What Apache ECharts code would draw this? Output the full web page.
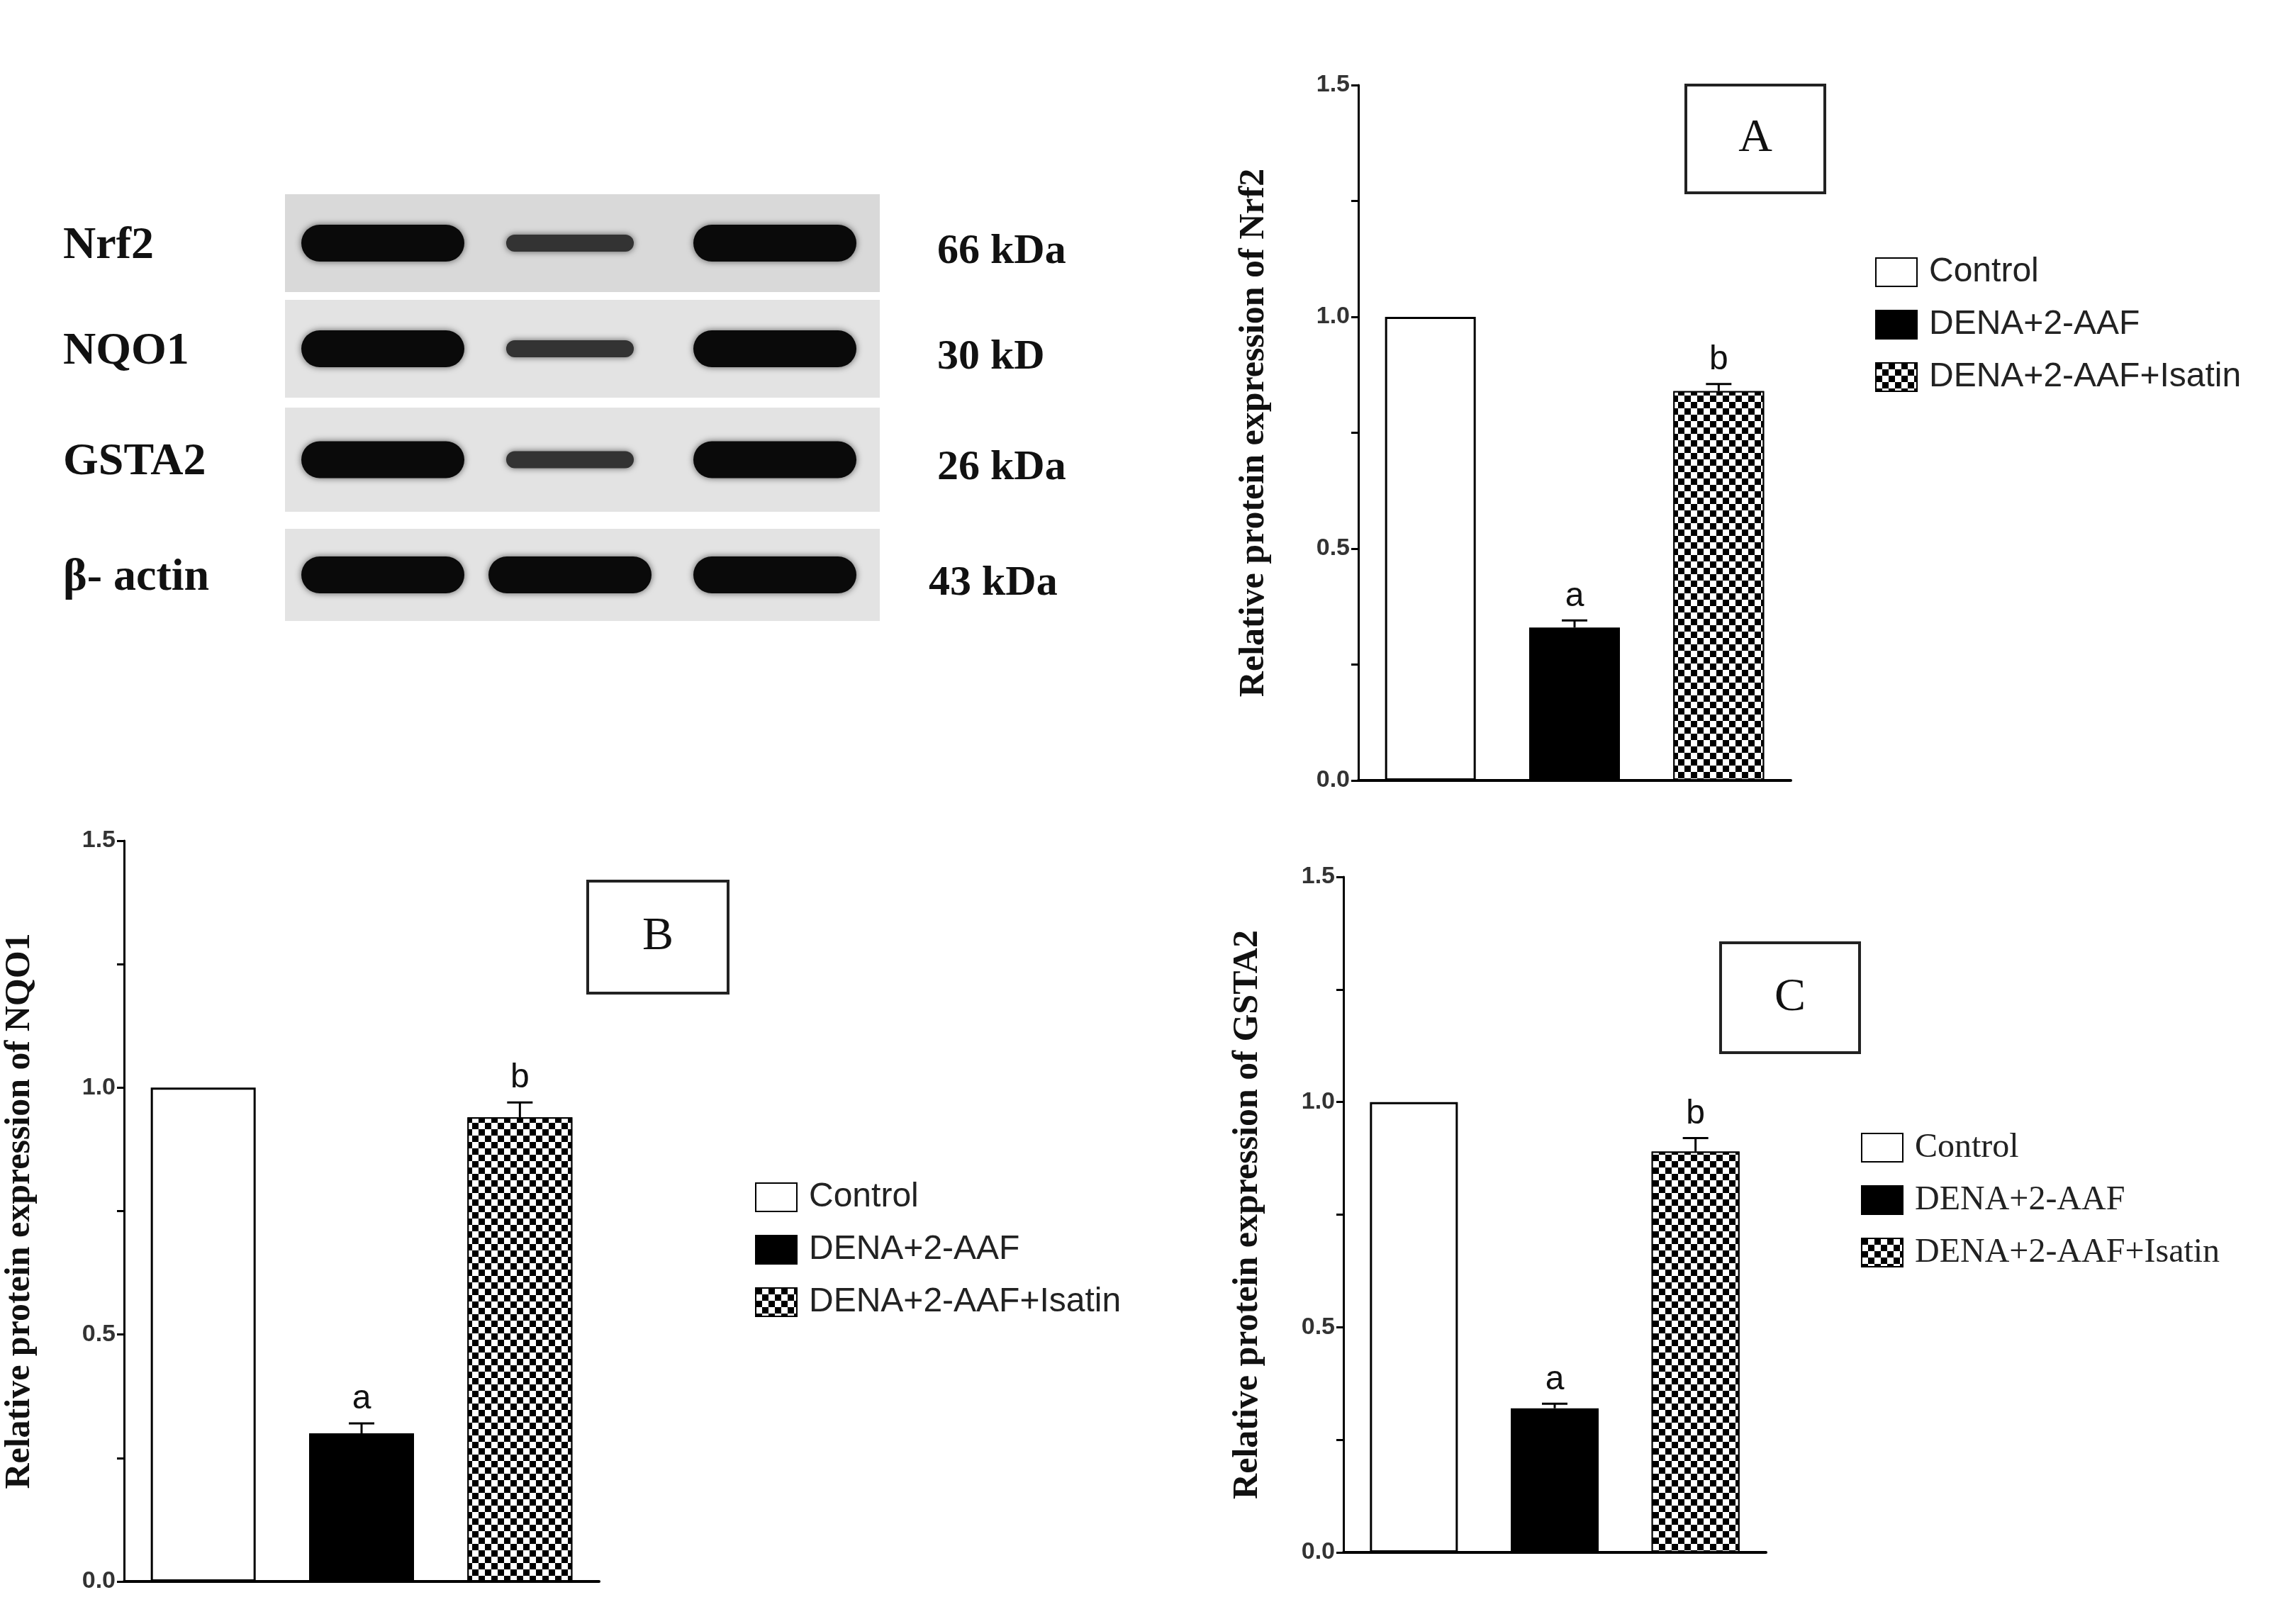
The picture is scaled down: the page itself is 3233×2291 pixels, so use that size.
<!DOCTYPE html>
<html><head><meta charset="utf-8">
<script src="https://cdn.jsdelivr.net/npm/echarts@6/dist/echarts.min.js"></script>
<style>html,body{margin:0;padding:0;background:#fff}#c{width:3233px;height:2291px}</style>
</head><body><div id="c"></div>
<script>
const groups = ['Control', 'DENA+2-AAF', 'DENA+2-AAF+Isatin'];
const yTicks = ['0.0', '0.5', '1.0', '1.5'];
const nrf2 = [1.0, 0.33, 0.84];
const nrf2Err = [0, 0.015, 0.015];
const nqo1 = [1.0, 0.30, 0.94];
const nqo1Err = [0, 0.02, 0.03];
const gsta2 = [1.0, 0.32, 0.89];
const gsta2Err = [0, 0.01, 0.03];
const sigLetters = ['', 'a', 'b'];
const proteins = ['Nrf2', 'NQO1', 'GSTA2', 'β- actin'];
const kda = ['66 kDa', '30 kD', '26 kDa', '43 kDa'];
const bandIntensity = [[1, 0.35, 1], [1, 0.3, 1], [1, 0.4, 1], [1, 1, 1]];

const panels = [
  {vals: nrf2, err: nrf2Err, title: 'Relative protein expression of Nrf2', grid: {left: 1916, top: 120, width: 610, height: 981}, bw: 128, gap: 122, leg: {left: 2640, top: 355}, legFont: 'Liberation Sans', box: {x: 2378, y: 120, w: 196, h: 152, t: 'A'}},
  {vals: nqo1, err: nqo1Err, title: 'Relative protein expression of NQO1', grid: {left: 175, top: 1186, width: 670, height: 1045}, bw: 148, gap: 122, leg: {left: 1060, top: 1660}, legFont: 'Liberation Sans', box: {x: 829, y: 1243, w: 198, h: 158, t: 'B'}},
  {vals: gsta2, err: gsta2Err, title: 'Relative protein expression of GSTA2', grid: {left: 1895, top: 1237, width: 596, height: 953}, bw: 124, gap: 110, leg: {left: 2620, top: 1590}, legFont: 'Liberation Serif', box: {x: 2427, y: 1330, w: 196, h: 155, t: 'C'}}
];

const grids = [], xAxes = [], yAxes = [], series = [], legends = [], graphics = [];
const fills = [
  {color: '#fff', borderColor: '#000', borderWidth: 3},
  {color: '#000', borderColor: '#000', borderWidth: 2},
  {color: '#000', borderColor: '#000', borderWidth: 2, decal: {color: '#fff', symbol: 'rect', symbolSize: 1, dashArrayX: [[9, 9], [0, 9, 9, 0]], dashArrayY: [9, 0], rotation: 0}}
];
panels.forEach((p, g) => {
  grids.push(p.grid);
  xAxes.push({type: 'category', gridIndex: g, data: groups, axisLabel: {show: false}, axisTick: {show: false},
    axisLine: {lineStyle: {color: '#000', width: 4}}});
  yAxes.push({type: 'value', gridIndex: g, min: 0, max: 1.5, interval: 0.25, splitLine: {show: false},
    name: p.title, nameLocation: 'middle', nameGap: p.gap, nameRotate: 90,
    nameTextStyle: {fontFamily: 'Liberation Serif', fontWeight: 'bold', fontSize: 50, color: '#111'},
    axisLine: {show: true, lineStyle: {color: '#000', width: 3}},
    axisTick: {show: true, length: 10, lineStyle: {width: 3, color: '#000'}},
    axisLabel: {fontFamily: 'Liberation Sans', fontWeight: 'bold', fontSize: 34, color: '#333', margin: 12,
      formatter: v => { const i = Math.round(v / 0.5); return Math.abs(v - i * 0.5) < 1e-6 ? yTicks[i] : ''; }}});
  groups.forEach((name, i) => {
    series.push({type: 'bar', name, xAxisIndex: g, yAxisIndex: g, stack: 's' + g, barWidth: p.bw,
      data: groups.map((_, j) => j === i ? p.vals[i] : '-'), itemStyle: fills[i]});
  });
  series.push({type: 'custom', xAxisIndex: g, yAxisIndex: g, z: 10,
    data: p.vals.map((v, i) => [i, v, p.err[i]]),
    renderItem: (params, api) => {
      const i = api.value(0), v = api.value(1), e = api.value(2);
      const base = api.coord([i, v]), top = api.coord([i, v + e]);
      const ch = [];
      if (e > 0) {
        ch.push({type: 'line', shape: {x1: base[0], y1: base[1], x2: top[0], y2: top[1]}, style: {stroke: '#000', lineWidth: 3}});
        ch.push({type: 'line', shape: {x1: top[0] - 18, y1: top[1], x2: top[0] + 18, y2: top[1]}, style: {stroke: '#000', lineWidth: 3}});
      }
      if (sigLetters[i]) ch.push({type: 'text', style: {text: sigLetters[i], x: top[0], y: top[1] - 10, textAlign: 'center', textVerticalAlign: 'bottom', font: '48px Liberation Sans', fill: '#111'}});
      return {type: 'group', children: ch};
    }});
  legends.push({left: p.leg.left, top: p.leg.top, orient: 'vertical', data: groups.map(n => ({name: n, icon: 'rect'})), itemWidth: 58, itemHeight: 40, itemGap: 26,
    selectedMode: false, textStyle: {fontFamily: p.legFont, fontSize: 48, color: '#222', padding: [0, 0, 0, 12]}});
  graphics.push({type: 'rect', shape: {x: p.box.x, y: p.box.y, width: p.box.w, height: p.box.h}, style: {fill: '#fff', stroke: '#222', lineWidth: 4}});
  graphics.push({type: 'text', x: p.box.x + p.box.w / 2, y: p.box.y + p.box.h / 2, style: {text: p.box.t, font: '66px Liberation Serif', fill: '#111', textAlign: 'center', textVerticalAlign: 'middle'}});
});

// Western blot illustration
const rows = [[274, 412], [423, 561], [575, 722], [746, 876]];
const lanes = [540, 804, 1093];
rows.forEach((r, k) => {
  graphics.push({type: 'rect', shape: {x: 402, y: r[0], width: 839, height: r[1] - r[0]}, style: {fill: k === 0 ? '#d9d9d9' : '#e3e3e3'}});
  const cy = (r[0] + r[1]) / 2;
  lanes.forEach((lx, j) => {
    const s = bandIntensity[k][j];
    const w = s < 1 ? 180 : 230, h = s < 1 ? 24 : 52;
    graphics.push({type: 'rect', shape: {x: lx - w / 2, y: cy - h / 2, width: w, height: h, r: h / 2},
      style: {fill: s < 1 ? '#333' : '#0a0a0a', shadowBlur: 10, shadowColor: 'rgba(0,0,0,0.6)'}});
  });
  graphics.push({type: 'text', x: 89, y: cy + 4, style: {text: proteins[k], font: 'bold 64px Liberation Serif', fill: '#111', textVerticalAlign: 'middle'}});
  graphics.push({type: 'text', x: k === 3 ? 1310 : 1322, y: cy + 12, style: {text: kda[k], font: 'bold 60px Liberation Serif', fill: '#111', textVerticalAlign: 'middle'}});
});

const chart = echarts.init(document.getElementById('c'));
chart.setOption({animation: false, backgroundColor: '#fff', grid: grids, xAxis: xAxes, yAxis: yAxes, series, legend: legends, graphic: graphics});
</script></body></html>
